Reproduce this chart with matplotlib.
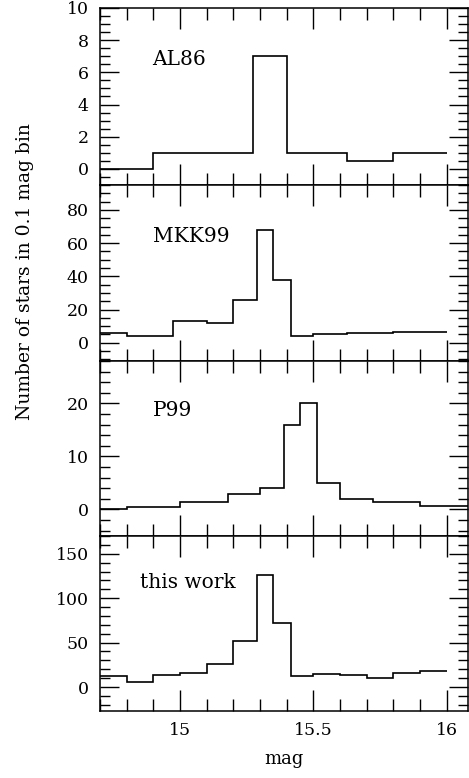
import numpy as np
import matplotlib
matplotlib.use("Agg")
import matplotlib.pyplot as plt
from matplotlib.ticker import MultipleLocator

plt.rcParams['font.family'] = 'DejaVu Serif'

# bin edges (mag) and counts for each sample
al86_edges = [14.70, 14.90, 15.275, 15.40, 15.625, 15.80, 16.00]
al86_counts = [0, 1, 7, 1, 0.5, 1]

mkk99_edges = [14.70, 14.80, 14.975, 15.10, 15.20, 15.29, 15.35, 15.415,
               15.50, 15.625, 15.80, 16.00]
mkk99_counts = [6, 4, 13, 12, 26, 68, 38, 4, 5, 6, 6.5]

p99_edges = [14.70, 14.80, 15.00, 15.18, 15.30, 15.39, 15.45, 15.515,
             15.60, 15.725, 15.90, 16.08]
p99_counts = [0, 0.5, 1.4, 3, 4, 16, 20, 5, 2, 1.5, 0.6]

work_edges = [14.70, 14.80, 14.90, 15.00, 15.10, 15.20, 15.29, 15.35, 15.415,
              15.50, 15.60, 15.70, 15.80, 15.90, 16.00]
work_counts = [12, 6, 13, 16, 26, 52, 126, 72, 12, 14.5, 13.5, 10, 16, 18]

names = ['AL86', 'MKK99', 'P99', 'this work']
edges = [al86_edges, mkk99_edges, p99_edges, work_edges]
counts = [al86_counts, mkk99_counts, p99_counts, work_counts]
ylims = [(-1, 10), (-11, 95), (-5, 28), (-27, 170)]
ymajor = [2, 20, 10, 50]
yminor = [0.5, 5, 2, 10]
label_pos = [(0.142, 0.71), (0.145, 0.706), (0.145, 0.72), (0.109, 0.735)]

W, H = 469, 778
fig = plt.figure(figsize=(W / 100, H / 100), dpi=100)

bounds = [8, 185, 361, 536, 711]
left, right = 100, 468
axes = []
for i in range(4):
    top_px, bot_px = bounds[i], bounds[i + 1]
    ax = fig.add_axes([left / W, 1 - bot_px / H, (right - left) / W,
                       (bot_px - top_px) / H])
    axes.append(ax)

    ax.stairs(counts[i], edges[i], baseline=None, color='black', lw=1.2)
    ax.set_xlim(14.7, 16.08)
    ax.set_ylim(*ylims[i])

    ax.xaxis.set_major_locator(MultipleLocator(0.5))
    ax.xaxis.set_minor_locator(MultipleLocator(0.1))
    ax.yaxis.set_major_locator(MultipleLocator(ymajor[i]))
    ax.yaxis.set_minor_locator(MultipleLocator(yminor[i]))

    ax.tick_params(which='both', direction='in', top=True, right=True,
                   labelsize=12.5, width=1.0, pad=8)
    ax.tick_params(axis='x', which='major', length=15)
    ax.tick_params(axis='x', which='minor', length=8.5)
    ax.tick_params(axis='y', which='major', length=14)
    ax.tick_params(axis='y', which='minor', length=7.5)
    for s in ax.spines.values():
        s.set_linewidth(1.1)

    if i < 3:
        ax.tick_params(axis='x', labelbottom=False)
    else:
        ax.set_xticks([15, 15.5, 16])
        ax.set_xticklabels(['15', '15.5', '16'])
        ax.set_xlabel('mag', fontsize=13, labelpad=8)

    lx, ly = label_pos[i]
    ax.text(lx, ly, names[i], transform=ax.transAxes, va='center',
            ha='left', fontsize=14.5)

fig.text(25 / W, 1 - 272 / H, 'Number of stars in 0.1 mag bin',
         rotation=90, va='center', ha='center', fontsize=13.5)

fig.savefig('out.png', dpi=100)
